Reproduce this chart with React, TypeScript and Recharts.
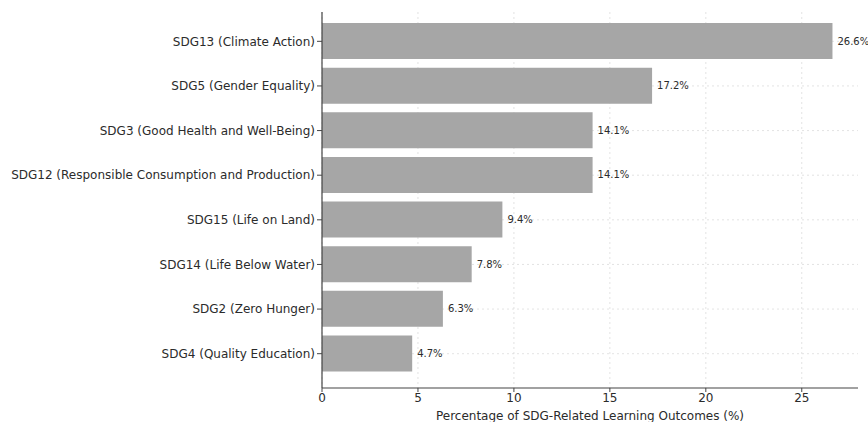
import React from 'react';
import {
  BarChart,
  Bar,
  XAxis,
  YAxis,
  CartesianGrid,
  LabelList,
} from 'recharts';

// SDG goals, top to bottom
const goals = [
  'SDG13 (Climate Action)',
  'SDG5 (Gender Equality)',
  'SDG3 (Good Health and Well-Being)',
  'SDG12 (Responsible Consumption and Production)',
  'SDG15 (Life on Land)',
  'SDG14 (Life Below Water)',
  'SDG2 (Zero Hunger)',
  'SDG4 (Quality Education)',
];

// share of learning outcomes per goal (%)
const shares = [26.6, 17.2, 14.1, 14.1, 9.4, 7.8, 6.3, 4.7];

const xTicks = [0, 5, 10, 15, 20, 25];

const FONT = '"DejaVu Sans", sans-serif';
const TEXT = '#2b2b2b';

const data = goals.map((name, i) => ({ name, value: shares[i] }));

// single-line category label (the default tick wraps long names)
const GoalTick = (props: any) => {
  const { x, y, payload } = props;
  return (
    <text
      x={x}
      y={y}
      dy="0.35em"
      textAnchor="end"
      fontSize={12}
      fontFamily={FONT}
      fill={TEXT}
    >
      {payload.value}
    </text>
  );
};

export default function App() {
  return (
    <div style={{ position: 'absolute', left: 0, top: 0, background: '#fff' }}>
      <BarChart
        width={868}
        height={422}
        data={data}
        layout="vertical"
        margin={{ top: 12, right: 10, bottom: 0, left: 0 }}
      >
        <CartesianGrid
          stroke="#dcdcdc"
          strokeDasharray="2 3"
          strokeWidth={0.8}
          syncWithTicks
        />
        <XAxis
          type="number"
          domain={[0, 27.93]}
          ticks={xTicks}
          allowDataOverflow
          height={34}
          tickSize={4}
          tickMargin={1}
          tick={{ fontSize: 12, fill: TEXT, fontFamily: FONT }}
          axisLine={{ stroke: '#444', strokeWidth: 1.2 }}
          tickLine={{ stroke: '#444' }}
          label={{
            value: 'Percentage of SDG-Related Learning Outcomes (%)',
            position: 'insideBottom',
            offset: 2,
            fontSize: 12,
            fill: TEXT,
            fontFamily: FONT,
          }}
        />
        <YAxis
          type="category"
          dataKey="name"
          width={322}
          padding={{ top: 7, bottom: 12 }}
          tickSize={5}
          tickMargin={2}
          interval={0}
          tick={<GoalTick />}
          axisLine={{ stroke: '#444', strokeWidth: 1.2 }}
          tickLine={{ stroke: '#444' }}
        />
        <Bar dataKey="value" fill="#a6a6a6" barSize={36} isAnimationActive={false}>
          <LabelList
            dataKey="value"
            position="right"
            offset={5}
            formatter={(v: number) => `${v.toFixed(1)}%`}
            style={{ fontSize: 10, fill: TEXT, fontFamily: FONT }}
          />
        </Bar>
      </BarChart>
    </div>
  );
}
